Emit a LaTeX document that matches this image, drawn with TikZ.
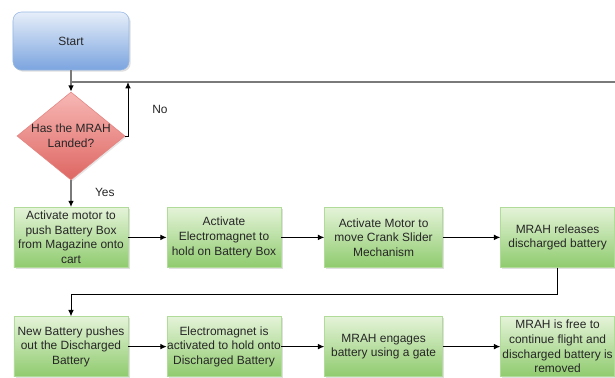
\documentclass[tikz,border=0pt]{standalone}
\usepackage{fontspec}
\setmainfont{Liberation Sans}
\usepackage{xcolor}
\usepackage{tikz}
\usetikzlibrary{arrows.meta, positioning, shapes.geometric, shadows}

\definecolor{boxTop}{HTML}{E4F3D8}
\definecolor{boxBot}{HTML}{8FCB6E}
\definecolor{startTop}{HTML}{E6EEF9}
\definecolor{startBot}{HTML}{7BA4DF}
\definecolor{decTop}{HTML}{F7B8B5}
\definecolor{decBot}{HTML}{DE6662}
\definecolor{spine}{HTML}{7A7A7A}

\begin{document}
\begin{tikzpicture}[
    txt/.style={font=\fontsize{8.5}{10.4}\selectfont, text=black!85, align=center},
    stepbox/.style={txt, rectangle, draw=boxBot!70, top color=boxTop, bottom color=boxBot,
        minimum width=2.85cm, minimum height=1.5cm, inner xsep=0pt, inner ysep=1pt,
        drop shadow={opacity=0.25, shadow xshift=1.2pt, shadow yshift=-1.2pt}},
    startbox/.style={txt, rectangle, rounded corners=6pt, draw=startBot!80, top color=startTop, bottom color=startBot,
        minimum width=2.9cm, minimum height=1.45cm,
        drop shadow={opacity=0.25, shadow xshift=1.2pt, shadow yshift=-1.2pt}},
    decision/.style={diamond, draw=decBot!80, top color=decTop, bottom color=decBot,
        minimum width=2.7cm, minimum height=2.2cm, inner sep=0pt,
        drop shadow={opacity=0.2, shadow xshift=1pt, shadow yshift=-1pt}},
    arrow/.style={-{Latex[length=4.5pt, width=4pt]}, line width=0.7pt, draw=black},
    mainline/.style={line width=1.3pt, draw=spine},
    mainarrow/.style={mainline, -{Latex[length=4.5pt, width=4pt, color=black]}}
]
    \clip (0,0) rectangle (15.375,9.425);
    \useasboundingbox (0,0) rectangle (15.375,9.425);

    % ── D\'ebut et test ──
    \node[startbox] (start) at (1.775, 8.4) {Start};
    \node[decision] (land) at (1.775, 6.025) {};
    \node[txt] (landtxt) at (land) {Has the MRAH\\Landed?};

    % ── Premi\`ere rang\'ee ──
    \node[stepbox] (push)    at (1.775, 3.49) {Activate motor to\\push Battery Box\\from Magazine onto\\cart};
    \node[stepbox] (magnet)  at (5.6, 3.49)   {Activate\\Electromagnet to\\hold on Battery Box};
    \node[stepbox, minimum width=2.95cm] (crank) at (9.59, 3.49) {Activate Motor to\\move Crank Slider\\Mechanism};
    \node[stepbox] (release) at (13.94, 3.49) {MRAH releases\\discharged battery};

    % ── Deuxi\`eme rang\'ee ──
    \node[stepbox] (newbat)  at (1.775, 0.76) {New Battery pushes\\out the Discharged\\Battery};
    \node[stepbox] (hold)    at (5.6, 0.76)   {Electromagnet is\\activated to hold onto\\Discharged Battery};
    \node[stepbox, minimum width=2.95cm] (gate) at (9.59, 0.76) {MRAH engages\\battery using a gate};
    \node[stepbox] (free)    at (13.94, 0.76) {MRAH is free to\\continue flight and\\discharged battery is\\removed};

    % ── Libell\'es ──
    \node[txt] (nolbl)  at (4.0, 6.7)   {No};
    \node[txt] (yeslbl) at (2.62, 4.62) {Yes};

    % ── Boucle de retour (vient de la droite, hors cadre) ──
    \coordinate (offpage) at (15.5, 7.375);
    \coordinate (nojn) at (3.2, 7.375);
    \draw[mainline] (offpage) -- (start.south |- offpage);
    \draw[mainarrow] (start) -- (land);
    \draw[arrow] (land.east) -| (nojn);
    \draw[mainarrow] (land) -- (push);

    % ── Encha\^inement des \'etapes ──
    \draw[arrow] (push) -- (magnet);
    \draw[arrow] (magnet) -- (crank);
    \draw[arrow] (crank) -- (release);
    \draw[arrow] (release.south) -- ++(0,-0.68) -| (newbat.north);
    \draw[arrow] (newbat) -- (hold);
    \draw[arrow] (hold) -- (gate);
    \draw[arrow] (gate) -- (free);

\end{tikzpicture}
\end{document}
